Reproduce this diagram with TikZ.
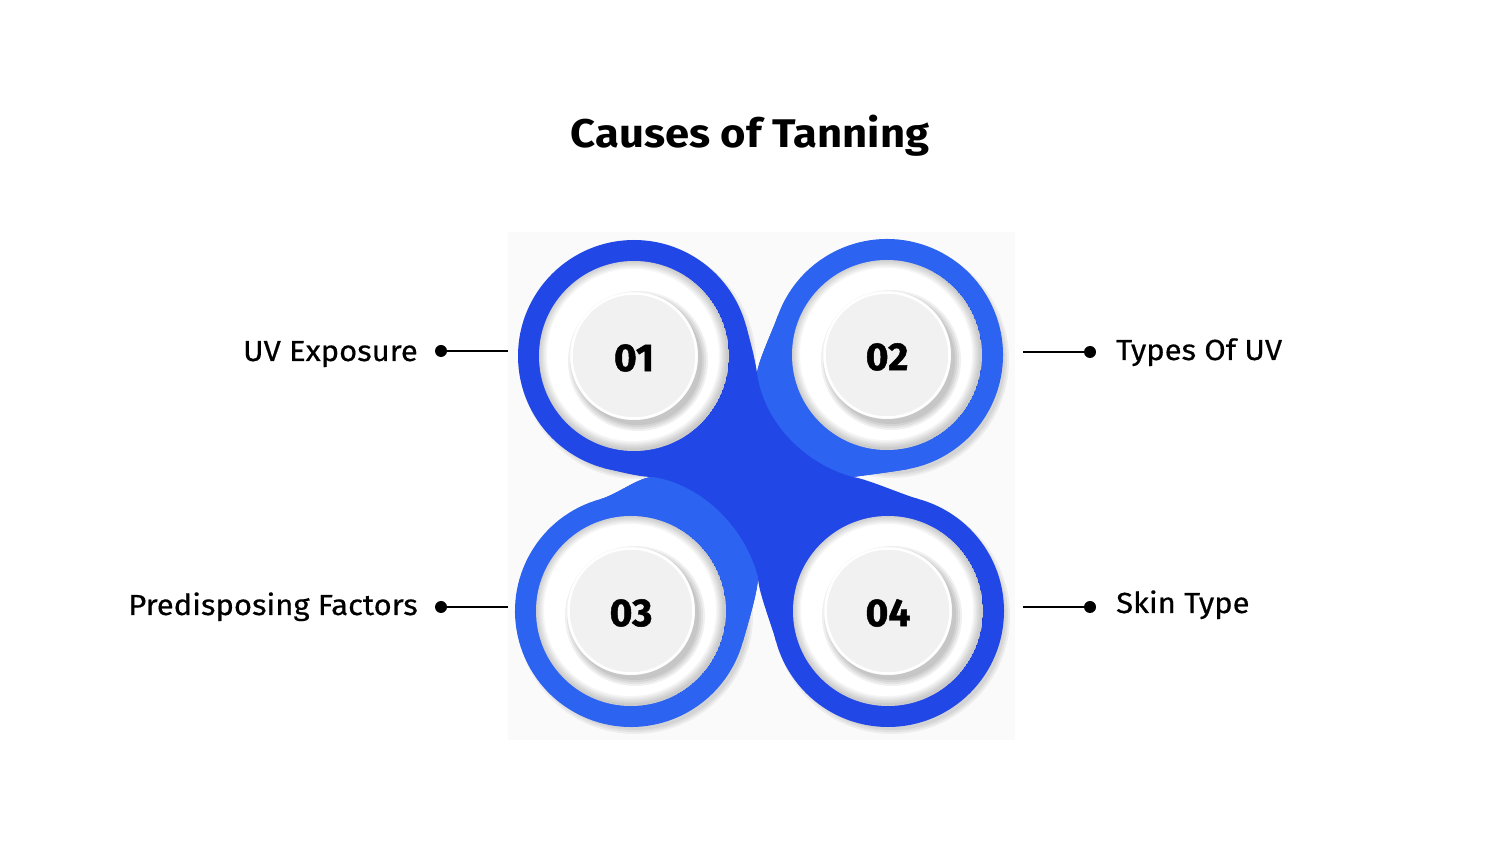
\documentclass[tikz,border=0pt]{standalone}
\usepackage{fontspec}
\setmainfont{Fira Sans}
\newfontfamily\titlefont{Fira Sans}[FakeStretch=1.09]
\newfontfamily\labfont{Fira Sans}[FakeStretch=1.07, FakeBold=0.5]
\newfontfamily\numfont{Fira Sans}[FakeBold=1.2]
\usepackage{tikz}
\usetikzlibrary{calc}
\definecolor{tanDark}{HTML}{2147E6}
\definecolor{tanLight}{HTML}{2C63F0}
\definecolor{plateGray}{HTML}{F1F1F1}
\tikzset{
  caption/.style={font=\labfont\fontsize{29}{34}\selectfont, inner sep=0pt},
  lead/.style={line width=2pt, black},
}

\begin{document}
\begin{tikzpicture}[x=1pt, y=1pt, every node/.style={inner sep=.25ex}]
  \useasboundingbox (0,0) rectangle (1500,844);
  \fill[white] (0,0) rectangle (1500,844);
  \fill[black!2] (508,104) rectangle (1015,612);

  \coordinate (C1) at (634,488);
  \coordinate (C2) at (887,489);
  \coordinate (C3) at (631,233);
  \coordinate (C4) at (888,233);
  % notch tips
  \coordinate (T) at (757,471);
  \coordinate (R) at (853,367);
  \coordinate (B) at (758,267);
  \coordinate (L) at (653,367);

  % soft shadow under the rings
  \foreach \c in {C1,C2,C3,C4}
    \foreach \s in {0,2,4}
      \fill[black, opacity=0.05] ($(\c)+(4,-5)$) circle (114+\s);

  % body
  \fill[tanDark] (C1) -- ($(C1)+(15:116)$) .. controls +(5,-18) and +(-2,14) .. (T)
    .. controls +(2,14) and +(-6,-17) .. ($(C2)+(160:116)$) -- (C2)
    -- ($(C2)+(280:116)$) .. controls +(-18,-3) and +(14,2) .. (R)
    .. controls +(14,-2) and +(-17,5) .. ($(C4)+(75:116)$) -- (C4)
    -- ($(C4)+(195:116)$) .. controls +(-5,18) and +(0,-14) .. (B)
    .. controls +(0,-14) and +(5,18) .. ($(C3)+(345:116)$) -- (C3)
    -- ($(C3)+(105:116)$) .. controls +(17,5) and +(-14,0) .. (L)
    .. controls +(-14,0) and +(17,-4) .. ($(C1)+(255:116)$) -- cycle;
  \fill[tanDark] (C1) circle (116);
  \fill[tanDark] (C4) circle (116);

  % lighter rings with their tails
  \fill[tanLight] (T) .. controls +(2,14) and +(-6,-17) .. ($(C2)+(160:116)$)
    arc[start angle=160, end angle=-80, radius=116]
    .. controls +(-18,-3) and +(14,2) .. (R)
    .. controls (805,380) and (764,421) .. (T) -- cycle;
  \fill[tanLight] (L) .. controls +(-14,0) and +(17,5) .. ($(C3)+(105:116)$)
    arc[start angle=105, end angle=345, radius=116]
    .. controls +(5,18) and +(0,-14) .. (B)
    .. controls (745,316) and (703,359) .. (L) -- cycle;

  % white wells, plates and numbers
  \foreach \c/\n in {C1/01,C2/02,C3/03,C4/04} {
    \begin{scope}
      \clip (\c) circle (95);
      \fill[white] (\c) circle (95);
      \foreach \w in {3,6,...,18}
        \draw[black, opacity=0.035, line width=\w pt] ($(\c)+(-1,1)$) circle (95);
    \end{scope}
    \foreach \r in {70,68,66,64}
      \fill[black, opacity=0.06] ($(\c)+(4,-5)$) circle (\r);
    \fill[plateGray] (\c) circle (64);
    \draw[white, line width=2.5pt] (\c) circle (62.5);
    \node[font=\numfont\bfseries\fontsize{39}{44}\selectfont] (num\n) at ($(\c)+(0,-2)$) {\n};
  }

  % labels and leads
  \node[caption, anchor=base east] (uvexp) at (418,483) {UV Exposure};
  \node[caption, anchor=base east] (predis) at (418,229) {Predisposing Factors};
  \node[caption, anchor=base west] (uvtypes) at (1116,484) {Types Of UV};
  \node[caption, anchor=base west] (skin) at (1116,231) {Skin Type};
  \coordinate (d1) at (441,493);
  \coordinate (e1) at (508,493);
  \coordinate (d2) at (1090,492);
  \coordinate (e2) at (1023,492);
  \coordinate (d3) at (441,237);
  \coordinate (e3) at (508,237);
  \coordinate (d4) at (1090,237);
  \coordinate (e4) at (1023,237);
  \foreach \i in {1,...,4} {
    \draw[lead] (d\i) -- (e\i);
    \fill (d\i) circle (6);
  }

  \node[font=\titlefont\bfseries\fontsize{40}{46}\selectfont, anchor=base] (title) at (750,696) {Causes of Tanning};
\end{tikzpicture}
\end{document}
